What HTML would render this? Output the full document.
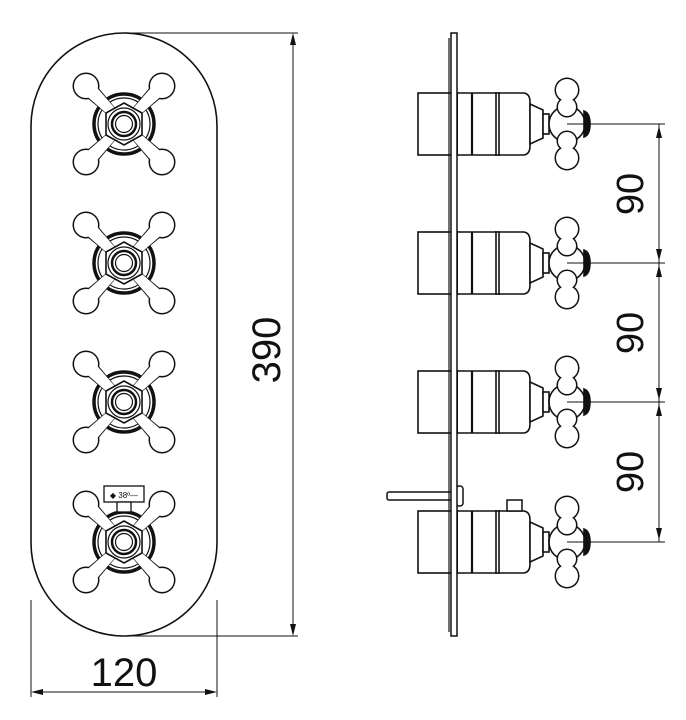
<!DOCTYPE html>
<html><head><meta charset="utf-8"><style>
html,body{margin:0;padding:0;background:#fff}
svg{display:block}
text{font-family:"Liberation Sans",sans-serif;fill:#111}
</style></head><body>
<svg width="686" height="720" viewBox="0 0 686 720" xmlns="http://www.w3.org/2000/svg">
<defs>
<g id="cross">
  <circle r="30" fill="#fff" stroke="#111" stroke-width="3.5"/>
  <circle r="26" fill="none" stroke="#111" stroke-width="1.2"/>
  <g fill="#111">
    <polygon points="-8,-2 -2,-8 -32,-44 -44,-32"/><polygon points="8,-2 2,-8 32,-44 44,-32"/>
    <polygon points="-8,2 -2,8 -32,44 -44,32"/><polygon points="8,2 2,8 32,44 44,32"/>
    <circle cx="-38" cy="-38" r="13.5"/><circle cx="38" cy="-38" r="13.5"/>
    <circle cx="-38" cy="38" r="13.5"/><circle cx="38" cy="38" r="13.5"/>
  </g>
  <g fill="#fff">
    <polygon points="-6.5,-1 -1,-6.5 -32,-42 -42,-32"/><polygon points="6.5,-1 1,-6.5 32,-42 42,-32"/>
    <polygon points="-6.5,1 -1,6.5 -32,42 -42,32"/><polygon points="6.5,1 1,6.5 32,42 42,32"/>
    <circle cx="-38" cy="-38" r="12"/><circle cx="38" cy="-38" r="12"/>
    <circle cx="-38" cy="38" r="12"/><circle cx="38" cy="38" r="12"/>
  </g>
  <polygon points="0,-21 18,-11 18,11 0,21 -18,11 -18,-11" fill="#fff" stroke="#111" stroke-width="1.6"/>
  <circle r="16" fill="#fff" stroke="#111" stroke-width="1.2"/>
  <circle r="12" fill="#fff" stroke="#111" stroke-width="2.5"/>
  <circle r="8.5" fill="#fff" stroke="#111" stroke-width="1.2"/>
</g>
<g id="lobe">
  <g fill="#111">
    <circle cx="567" cy="-34" r="12.5"/><circle cx="567" cy="-17" r="10.5"/>
  </g>
  <g fill="#fff">
    <circle cx="567" cy="-34" r="11"/><circle cx="567" cy="-17" r="9"/>
    <rect x="562" y="-30" width="10" height="12"/>
  </g>
</g>
<g id="side" fill="#fff" stroke="#111" stroke-width="1.6">
  <rect x="418" y="-31" width="40" height="62"/>
  <path d="M458,-31 L524,-31 Q530,-30 530,-22 L530,22 Q530,30 524,31 L458,31"/>
  <line x1="472" y1="-31" x2="472" y2="31" stroke-width="2.2"/>
  <line x1="496" y1="-32" x2="496" y2="32"/>
  <line x1="499" y1="-32" x2="499" y2="32"/>
  <path d="M530,-20 L543,-14 L543,14 L530,20 Z"/>
  <rect x="543" y="-10" width="6" height="20"/>
  <circle cx="567" cy="0" r="18"/>
  <path d="M584,-13 Q590,-11 590,0 Q590,11 584,13 Z" fill="#111"/>
  <g stroke="none"><use href="#lobe"/><use href="#lobe" transform="scale(1,-1)"/></g>
</g>
</defs>

<rect x="31" y="33" width="186" height="603" rx="93" ry="93" fill="#fff" stroke="#111" stroke-width="1.6"/>
<use href="#cross" x="124" y="124"/>
<use href="#cross" x="124" y="263"/>
<use href="#cross" x="124" y="402"/>
<use href="#cross" x="124" y="542"/>
<rect x="104" y="486" width="40" height="16" fill="#fff" stroke="#111" stroke-width="1.3"/>
<text x="124" y="498" font-size="8" text-anchor="middle">◆ 38º—</text>
<rect x="117" y="502" width="14" height="10" fill="#fff" stroke="#111" stroke-width="1.3"/>

<g stroke="#111" stroke-width="1">
  <line x1="124" y1="33" x2="298" y2="33"/>
  <line x1="124" y1="636" x2="298" y2="636"/>
  <line x1="293" y1="38" x2="293" y2="631"/>
  <line x1="31" y1="600" x2="31" y2="697"/>
  <line x1="217" y1="600" x2="217" y2="697"/>
  <line x1="36" y1="692" x2="212" y2="692"/>
</g>
<g fill="#111">
  <polygon points="293,33 290,45 296,45"/>
  <polygon points="293,636 290,624 296,624"/>
  <polygon points="31,692 43,689 43,695"/>
  <polygon points="217,692 205,689 205,695"/>
</g>
<text x="124" y="686" font-size="40" text-anchor="middle">120</text>
<text transform="translate(280,350) rotate(-90)" font-size="40" text-anchor="middle">390</text>

<use href="#side" y="124"/>
<use href="#side" y="263"/>
<use href="#side" y="402"/>
<use href="#side" y="542"/>
<rect x="387" y="492" width="66" height="8" rx="2" fill="#fff" stroke="#111" stroke-width="1.5"/>
<rect x="456" y="486" width="7" height="20" rx="3" fill="#fff" stroke="#111" stroke-width="1.5"/>
<rect x="507" y="500" width="15" height="11" fill="#fff" stroke="#111" stroke-width="1.5"/>
<rect x="451" y="33" width="6" height="603" fill="#fff" stroke="#111" stroke-width="1.5"/>
<line x1="449" y1="38" x2="449" y2="632" stroke="#111" stroke-width="1.2"/>

<g stroke="#111" stroke-width="1">
  <line x1="567" y1="124" x2="665" y2="124"/>
  <line x1="567" y1="263" x2="665" y2="263"/>
  <line x1="567" y1="402" x2="665" y2="402"/>
  <line x1="567" y1="542" x2="665" y2="542"/>
  <line x1="659" y1="124" x2="659" y2="542"/>
</g>
<g fill="#111">
  <polygon points="659,126 656,138 662,138"/>
  <polygon points="659,261 656,249 662,249"/>
  <polygon points="659,265 656,277 662,277"/>
  <polygon points="659,400 656,388 662,388"/>
  <polygon points="659,404 656,416 662,416"/>
  <polygon points="659,540 656,528 662,528"/>
</g>
<text transform="translate(643,194) rotate(-90)" font-size="38" text-anchor="middle">90</text>
<text transform="translate(643,333) rotate(-90)" font-size="38" text-anchor="middle">90</text>
<text transform="translate(643,472) rotate(-90)" font-size="38" text-anchor="middle">90</text>
</svg>
</body></html>
